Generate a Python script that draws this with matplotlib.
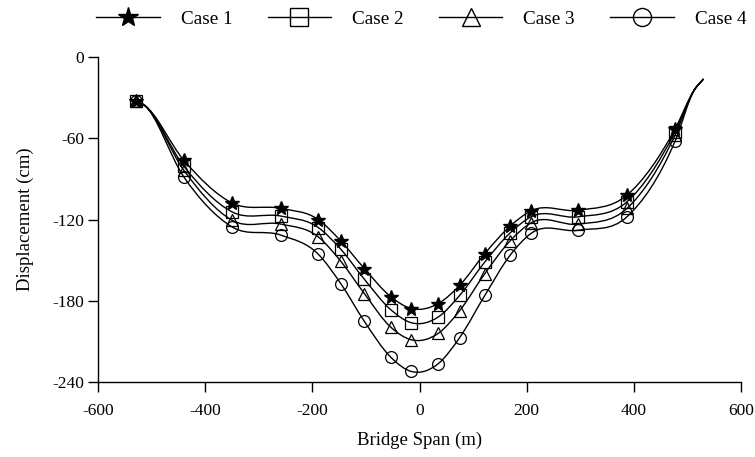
import numpy as np
import matplotlib
matplotlib.use("Agg")
import matplotlib.pyplot as plt
from matplotlib.path import Path
from matplotlib.patches import PathPatch
from matplotlib.lines import Line2D

plt.rcParams['font.family'] = ['Liberation Serif', 'DejaVu Serif']
plt.rcParams['axes.unicode_minus'] = False

# Marker stations along the bridge (m)
span = [-530, -440, -350, -258, -189, -147, -103, -54, -15, 35, 75, 122, 169, 208, 296, 387, 477]

# Vertical displacement at each station (cm)
case1 = [-32.3, -76.0, -107.6, -111.7, -119.9, -135.7, -156.1, -176.8, -185.7,
         -182.0, -168.5, -145.0, -124.8, -113.5, -113.0, -101.9, -52.9]
case2 = [-32.3, -80.4, -114.2, -117.4, -125.8, -141.8, -164.0, -186.4, -196.2,
         -191.9, -175.9, -151.2, -129.8, -117.9, -117.9, -106.8, -54.9]
case3 = [-32.3, -83.4, -120.4, -123.3, -132.7, -150.7, -174.6, -199.3, -208.8,
         -204.0, -187.2, -159.8, -135.7, -122.4, -123.3, -111.7, -57.5]
case4 = [-32.3, -88.3, -125.3, -131.5, -145.5, -167.2, -195.1, -221.5, -232.2,
         -226.4, -207.1, -175.9, -146.3, -130.2, -127.8, -117.9, -61.9]

# Unmarked curve points near the abutments, shared by all cases
head_span = [-515]
head_disp = [-35.0]
tail_span = [513, 530]
tail_disp = [-24.0, -16.0]

labels = ["Case 1", "Case 2", "Case 3", "Case 4"]
markers = ["*", "s", "^", "o"]


def smooth_path(xs, ys):
    """Cubic Hermite curve through the points, as a Bezier path."""
    x = np.asarray(xs, float)
    y = np.asarray(ys, float)
    h = np.diff(x)
    d = np.diff(y) / h
    m = np.empty_like(y)
    m[0], m[-1] = d[0], d[-1]
    m[1:-1] = (h[1:] * d[:-1] + h[:-1] * d[1:]) / (h[:-1] + h[1:])
    verts = [(x[0], y[0])]
    codes = [Path.MOVETO]
    for i in range(len(h)):
        verts += [(x[i] + h[i] / 3, y[i] + m[i] * h[i] / 3),
                  (x[i + 1] - h[i] / 3, y[i + 1] - m[i + 1] * h[i] / 3),
                  (x[i + 1], y[i + 1])]
        codes += [Path.CURVE4] * 3
    return Path(verts, codes)


fig = plt.figure(figsize=(7.55, 4.57), dpi=100)
ax = fig.add_axes([0.1298, 0.164, 0.8517, 0.7106])

handles = []
for vals, mk, lab in zip([case1, case2, case3, case4], markers, labels):
    xs = [span[0]] + head_span + span[1:] + tail_span
    ys = [vals[0]] + head_disp + vals[1:] + tail_disp
    ax.add_patch(PathPatch(smooth_path(xs, ys), facecolor="none",
                           edgecolor="black", lw=1.0))
    if mk == "*":
        ax.plot(span, vals, ls="none", marker=mk, ms=10, color="black")
        handles.append(Line2D([], [], color="black", lw=1.0, marker=mk, ms=15))
    else:
        ax.plot(span, vals, ls="none", marker=mk, ms=8.5, mfc="none",
                mec="black", mew=0.9)
        handles.append(Line2D([], [], color="black", lw=1.0, marker=mk, ms=13,
                              mfc="none", mec="black", mew=1.0))

ax.set_xlim(-600, 600)
ax.set_ylim(-240, 0)
ax.set_xticks(np.arange(-600, 601, 200))
ax.set_yticks(np.arange(-240, 1, 60))
for s in ("top", "right"):
    ax.spines[s].set_visible(False)
for s in ("left", "bottom"):
    ax.spines[s].set_linewidth(1.0)
ax.tick_params(direction="out", length=7, width=1.0, labelsize=12.5)
ax.tick_params(axis="x", pad=8)
ax.tick_params(axis="y", pad=3)
ax.set_xlabel("Bridge Span (m)", fontsize=13.5, labelpad=9)
ax.set_ylabel("Displacement (cm)", fontsize=13.5, labelpad=13)

fig.legend(handles, labels, loc="center", bbox_to_anchor=(0.558, 0.958),
           ncol=4, frameon=False, handlelength=3.3, handletextpad=1.1,
           columnspacing=1.85, fontsize=13.8)

fig.savefig("out.png", dpi=100)
